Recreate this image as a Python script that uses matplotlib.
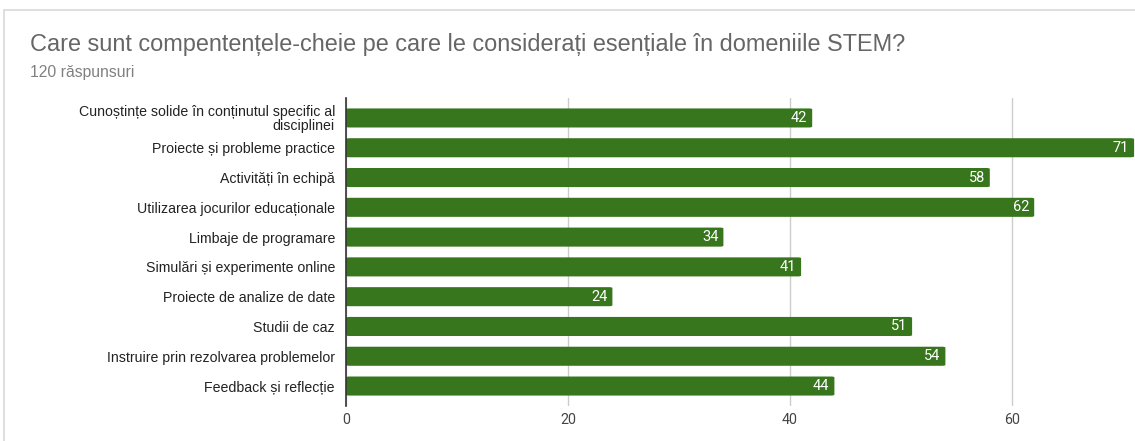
import matplotlib
matplotlib.use("Agg")
import matplotlib.pyplot as plt
from matplotlib.patches import FancyBboxPatch, Rectangle

categories = [
    "Cunoștințe solide în conținutul specific al\ndisciplinei",
    "Proiecte și probleme practice",
    "Activități în echipă",
    "Utilizarea jocurilor educaționale",
    "Limbaje de programare",
    "Simulări și experimente online",
    "Proiecte de analize de date",
    "Studii de caz",
    "Instruire prin rezolvarea problemelor",
    "Feedback și reflecție",
]
values = [42, 71, 58, 62, 34, 41, 24, 51, 54, 44]
xticks = [0, 20, 40, 60]

title = "Care sunt compentențele-cheie pe care le considerați esențiale în domeniile STEM?"
subtitle = "120 răspunsuri"

W, H = 1135, 441
fig = plt.figure(figsize=(W / 100, H / 100), dpi=100)
fig.patch.set_facecolor("white")

# card outline
card = Rectangle((4 / W, -0.1), 1.2, 1 - 10 / H + 0.1, transform=fig.transFigure,
                 facecolor="none", edgecolor="#dadce0", linewidth=1.3)
fig.add_artist(card)

fig.text(30 / W, 1 - 44 / H, title, fontsize=16.9, color="#666666",
         family=["Liberation Sans", "DejaVu Sans"], va="center", ha="left")
fig.text(30 / W, 1 - 72 / H, subtitle, fontsize=11.3, color="#808080",
         family=["Liberation Sans", "DejaVu Sans"], va="center", ha="left")

ax_left, ax_right = 346 / W, 1.0
ax_top, ax_bottom = 1 - 98 / H, 1 - 406 / H
ax = fig.add_axes([ax_left, ax_bottom, ax_right - ax_left, ax_top - ax_bottom])

px_per_unit = 11.1
ax.set_xlim(0, (W - 346) / px_per_unit)
n = len(categories)
pad = 0.67
ax.set_ylim(n - 1 + pad, -pad)

bar_h = 0.64
color = "#38761d"
for i, v in enumerate(values):
    patch = FancyBboxPatch((0, i - bar_h / 2), v, bar_h,
                           boxstyle="round,pad=0,rounding_size=0.3",
                           mutation_aspect=0.1,
                           facecolor=color, edgecolor="none", zorder=3)
    ax.add_patch(patch)
    ax.text(v - 0.45, i, str(v), color="white", fontsize=10.5, ha="right",
            va="center", family=["Roboto", "DejaVu Sans"], zorder=4)

ax.set_yticks(range(n))
ax.set_yticklabels(categories, fontsize=10.2, color="#222222",
                   family=["Liberation Sans", "DejaVu Sans"])
for lab in ax.get_yticklabels():
    lab.set_horizontalalignment("right")
    lab.set_multialignment("right")
    lab.set_linespacing(0.95)
ax.tick_params(axis="y", length=0, pad=8)

ax.set_xticks(xticks)
ax.set_xticklabels([str(t) for t in xticks], fontsize=10.3, color="#444444",
                   family=["Roboto", "DejaVu Sans"])
ax.tick_params(axis="x", length=0, pad=5)

ax.grid(axis="x", color="#cccccc", linewidth=1, zorder=0)
ax.set_axisbelow(True)
for s in ["top", "right", "bottom"]:
    ax.spines[s].set_visible(False)
ax.spines["left"].set_color("#333333")
ax.spines["left"].set_linewidth(1.2)
ax.spines["left"].set_zorder(5)

fig.savefig("out.png", dpi=100, facecolor="white")
